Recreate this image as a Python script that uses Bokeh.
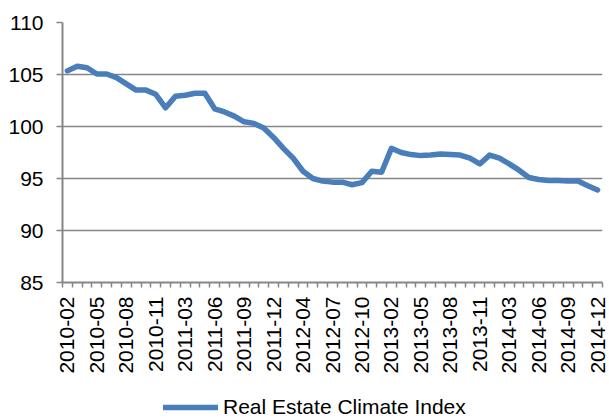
import math
from bokeh.plotting import figure
from bokeh.layouts import column
from bokeh.models import Range1d, FixedTicker, Legend, LegendItem
from bokeh.embed import file_html
from bokeh.resources import INLINE

categories = [
    "2010-02", "2010-03", "2010-04", "2010-05", "2010-06", "2010-07", "2010-08", "2010-09", "2010-10", "2010-11", "2010-12",
    "2011-02", "2011-03", "2011-04", "2011-05", "2011-06", "2011-07", "2011-08", "2011-09", "2011-10", "2011-11", "2011-12",
    "2012-02", "2012-03", "2012-04", "2012-05", "2012-06", "2012-07", "2012-08", "2012-09", "2012-10", "2012-11", "2012-12",
    "2013-02", "2013-03", "2013-04", "2013-05", "2013-06", "2013-07", "2013-08", "2013-09", "2013-10", "2013-11", "2013-12",
    "2014-02", "2014-03", "2014-04", "2014-05", "2014-06", "2014-07", "2014-08", "2014-09", "2014-10", "2014-11", "2014-12",
]
values = [
    105.35, 105.8, 105.65, 105.05, 105.05, 104.7, 104.1, 103.5, 103.5, 103.1, 101.8,
    102.9, 103.0, 103.2, 103.2, 101.7, 101.4, 101.0, 100.45, 100.3, 99.85, 98.95,
    97.9, 96.95, 95.7, 95.0, 94.75, 94.65, 94.65, 94.4, 94.6, 95.7, 95.6,
    97.9, 97.5, 97.3, 97.2, 97.25, 97.35, 97.3, 97.25, 96.95, 96.4, 97.25,
    96.95, 96.4, 95.8, 95.1, 94.9, 94.8, 94.8, 94.75, 94.75, 94.3, 93.9,
]
y_ticks = [85, 90, 95, 100, 105, 110]
series_name = "Real Estate Climate Index"

FONT = "Liberation Sans"
FSIZE = "21px"
GRAY = "#868686"
BLUE = "#4a7ebb"

n = len(categories)
xs = list(range(n))
label_idx = [i for i in xs if i % 3 == 0]

p = figure(width=609, height=392, output_backend="svg", toolbar_location=None,
           x_range=Range1d(-0.5, n - 0.5), y_range=Range1d(y_ticks[0], y_ticks[-1]),
           min_border_left=62, min_border_right=7, min_border_top=22, min_border_bottom=110)
p.outline_line_color = None

xt = FixedTicker(ticks=label_idx, minor_ticks=[i - 0.5 for i in range(n + 1)])
xa = p.xaxis[0]
xa.ticker = xt
xa.major_label_overrides = {i: categories[i] for i in label_idx}
xa.axis_line_color = GRAY
xa.axis_line_width = 2
xa.major_tick_out = 0
xa.major_tick_in = 0
xa.minor_tick_out = 5
xa.minor_tick_in = 0
xa.minor_tick_line_color = GRAY
xa.minor_tick_line_width = 1.5
xa.major_label_orientation = math.pi / 2
xa.major_label_standoff = 9
xa.major_label_text_font = FONT
xa.major_label_text_font_size = FSIZE
xa.major_label_text_color = "black"

yt = FixedTicker(ticks=y_ticks, minor_ticks=[])
ya = p.yaxis[0]
ya.ticker = yt
ya.axis_line_color = GRAY
ya.axis_line_width = 2
ya.major_tick_out = 6
ya.major_tick_in = 0
ya.major_tick_line_color = GRAY
ya.major_tick_line_width = 1.5
ya.minor_tick_out = 0
ya.minor_tick_in = 0
ya.major_label_standoff = 13
ya.major_label_text_font = FONT
ya.major_label_text_font_size = FSIZE
ya.major_label_text_color = "black"

p.xgrid.visible = False
p.ygrid.ticker = yt
p.ygrid.grid_line_color = GRAY
p.ygrid.grid_line_width = 1.5

p.line(xs, values, line_color=BLUE, line_width=5.5, line_join="round", line_cap="round")

# legend strip below the chart (its own series renderer lies outside its view)
lf = figure(width=609, height=27, output_backend="svg", toolbar_location=None,
            x_range=Range1d(0, 1), y_range=Range1d(0, 1),
            x_axis_location=None, y_axis_location=None,
            min_border=0, min_border_left=0, min_border_right=0,
            min_border_top=0, min_border_bottom=0)
lf.outline_line_color = None
lf.xgrid.visible = False
lf.ygrid.visible = False
lr = lf.line(xs, values, line_color=BLUE, line_width=5.5, line_cap="round")
legend = Legend(items=[LegendItem(label=series_name, renderers=[lr])],
                location=(101, 0), orientation="horizontal",
                border_line_color=None, background_fill_alpha=0,
                padding=0, margin=0, glyph_width=55, glyph_height=20,
                label_height=20, label_standoff=5, label_text_font=FONT,
                label_text_font_size=FSIZE, label_text_color="black")
lf.add_layout(legend)

open("out.html", "w").write(file_html(column(p, lf, spacing=0), INLINE))
